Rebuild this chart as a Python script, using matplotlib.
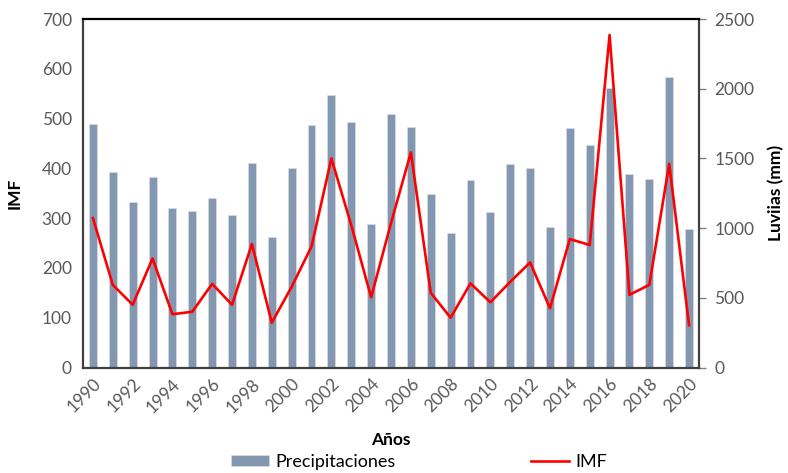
import matplotlib
matplotlib.use("Agg")
import matplotlib.pyplot as plt
import numpy as np

plt.rcParams['font.family'] = ['Lato', 'DejaVu Sans']

years = list(range(1990, 2021))
precip_mm = [1747, 1405, 1187, 1369, 1142, 1123, 1214, 1094, 1469, 938,
             1433, 1737, 1955, 1763, 1029, 1818, 1727, 1242, 967, 1343,
             1115, 1460, 1433, 1010, 1718, 1598, 2003, 1388, 1350, 2082, 994]
imf = [300, 166, 126, 219, 107, 112, 168, 126, 248, 90,
       162, 243, 420, 286, 141, 290, 432, 150, 100, 169,
       131, 172, 211, 119, 258, 246, 668, 146, 166, 409, 85]
tick_years = [str(y) for y in range(1990, 2021, 2)]

fig = plt.figure(figsize=(7.88, 4.73), dpi=100)
ax = fig.add_axes([83/788, 1-367.5/473, (699-83)/788, (367.5-19)/473])
ax2 = ax.twinx()

x = np.arange(len(years))
bars = ax2.bar(x, precip_mm, width=0.4, color='#8497B0', edgecolor='#DCE3EC', linewidth=0.4,
               label='Precipitaciones')
line, = ax.plot(x, imf, color='#FF0000', linewidth=1.9, label='IMF')

ax.set_zorder(ax2.get_zorder() + 1)
ax.patch.set_visible(False)

ax.set_xlim(-0.5, len(years) - 0.5)
ax.set_ylim(0, 700)
ax2.set_ylim(0, 2500)
ax.set_yticks(range(0, 701, 100))
ax2.set_yticks(range(0, 2501, 500))

tick_pos = [years.index(int(t)) for t in tick_years]
ax.set_xticks(tick_pos)
ax.set_xticklabels(tick_years, rotation=45, ha='right', rotation_mode='anchor')

gray = '#595959'
ax.tick_params(axis='y', length=0, labelsize=12.5, labelcolor=gray, pad=8)
ax.tick_params(axis='x', length=0, labelsize=12.5, labelcolor=gray, pad=6)
ax2.tick_params(axis='y', length=5, width=1, color='#808080', labelsize=12.5, labelcolor=gray, pad=6)

for a in (ax, ax2):
    for s in a.spines.values():
        s.set_visible(False)
ax.spines['left'].set_visible(True)
ax.spines['left'].set_color('#404040')
ax.spines['left'].set_linewidth(1.6)
ax.spines['bottom'].set_visible(True)
ax.spines['bottom'].set_color('#404040')
ax.spines['bottom'].set_linewidth(1.6)
ax.spines['top'].set_visible(True)
ax.spines['top'].set_color('black')
ax.spines['top'].set_linewidth(1.6)
ax2.spines['right'].set_visible(True)
ax2.spines['right'].set_color('#404040')
ax2.spines['right'].set_linewidth(1.6)

ax.set_ylabel('IMF', fontsize=12.5, fontweight='bold', labelpad=14)
ax2.set_ylabel('Luviias (mm)', fontsize=12.5, fontweight='bold', labelpad=10)
fig.text(391/788, 1-440/473, 'Años', fontsize=12.5, fontweight='bold', ha='center', va='center')

fig.legend(handles=[bars, line], labels=['Precipitaciones', 'IMF'], loc='center',
           bbox_to_anchor=(419/788, 1-462/473), ncol=2, frameon=False, fontsize=13,
           handlelength=2.1, handleheight=0.6, columnspacing=7.5, handletextpad=0.35)

fig.savefig('out.png', dpi=100)
